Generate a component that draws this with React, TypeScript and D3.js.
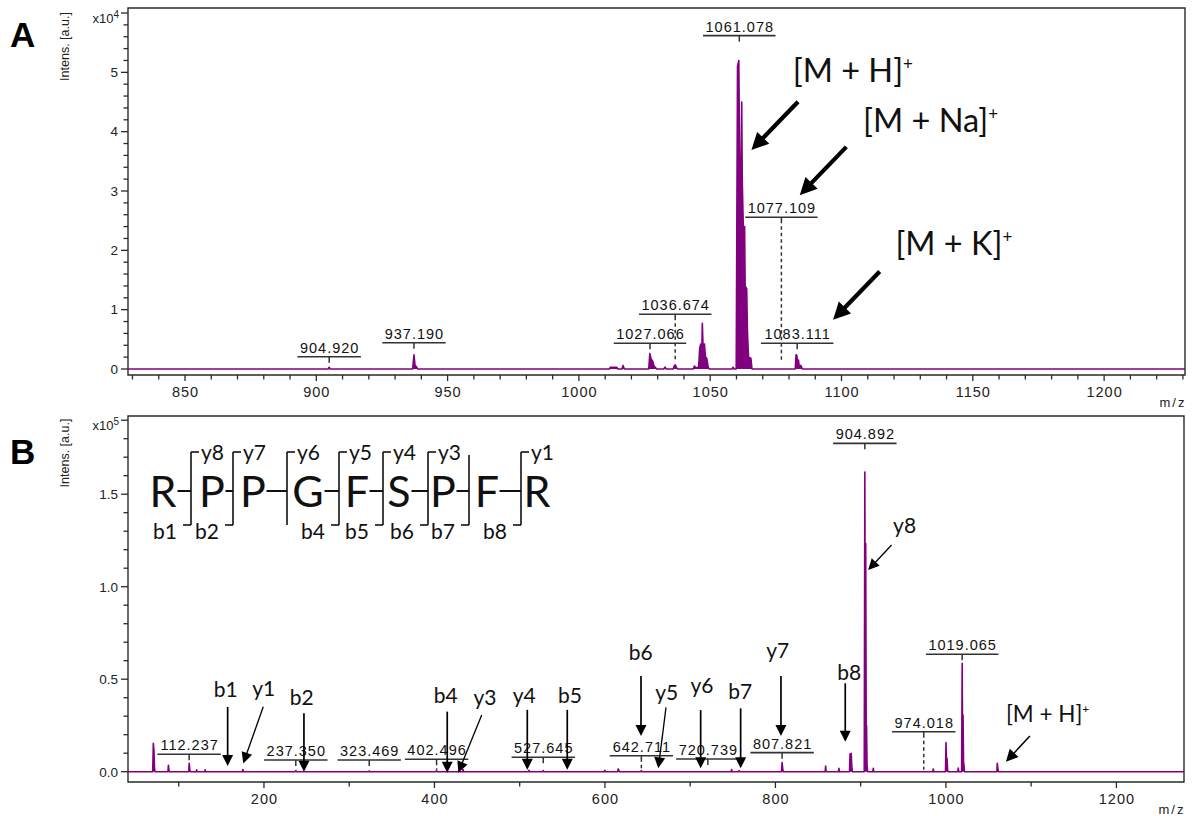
import React from 'react';
import * as d3 from 'd3';

// ---------- Panel A: intact peptide, intensity in units of 1e4 ----------
const profileA: [number, number][] = [
  [828.3, 0],
  [904.5, 0], [904.9, 0.03], [905.3, 0],
  [936.7, 0], [937.2, 0.24], [937.6, 0.06], [938.1, 0.04], [938.6, 0],
  [1011.6, 0], [1012.0, 0.03], [1014.4, 0.03], [1014.8, 0],
  [1016.4, 0], [1016.8, 0.06], [1017.3, 0],
  [1026.6, 0], [1027.0, 0.26], [1027.5, 0.17], [1028.1, 0.13], [1028.6, 0.05], [1029.2, 0.02], [1029.8, 0],
  [1032.3, 0], [1032.8, 0.03], [1033.3, 0],
  [1035.9, 0], [1036.3, 0.05], [1036.7, 0.07], [1037.2, 0.02], [1037.6, 0],
  [1043.6, 0], [1044.0, 0.05], [1044.5, 0.02], [1045.6, 0.03], [1046.0, 0.35], [1046.4, 0.42], [1046.8, 0.3],
  [1047.0, 0.77], [1047.3, 0.35], [1047.8, 0.42], [1048.2, 0.2], [1048.7, 0.18], [1049.2, 0.04], [1049.6, 0],
  [1058.3, 0], [1058.7, 0.03], [1059.1, 0],
  [1059.9, 0], [1060.4, 5.1], [1060.9, 5.2], [1061.2, 3.5], [1061.8, 3.5], [1062.0, 4.5], [1062.2, 3.2],
  [1062.6, 2.4], [1063.1, 2.4], [1063.3, 1.4], [1063.9, 1.35], [1064.2, 0.6], [1064.6, 0.2], [1065.5, 0.18], [1065.9, 0],
  [1082.4, 0], [1082.7, 0.24], [1083.0, 0.23], [1083.3, 0.09], [1083.6, 0.15], [1083.9, 0.05], [1084.5, 0.06], [1085.1, 0],
  [1230.8, 0],
];
const peakLabelsA = [904.92, 937.19, 1027.066, 1036.674, 1061.078, 1077.109, 1083.111];
const adductNamesA = ['M + H', 'M + Na', 'M + K'];
const adductMzA = [1065.7, 1084.1, 1096.8];
const adductIntA = [3.69, 2.93, 0.83];
const xTickLabelsA = [850, 900, 950, 1000, 1050, 1100, 1150, 1200];
const yTickLabelsA = [0, 1, 2, 3, 4, 5];

// ---------- Panel B: MS/MS fragment spectrum, intensity in units of 1e5 ----------
const profileB: [number, number][] = [
  [40.5, 0],
  [69.5, 0], [70.2, 0.153], [71.0, 0.11], [71.6, 0.02], [72.2, 0],
  [87.3, 0], [87.9, 0.035], [88.5, 0.01], [89.0, 0],
  [111.7, 0], [112.3, 0.045], [113.0, 0.01], [113.6, 0],
  [120.5, 0], [121.0, 0.01], [121.5, 0],
  [130.5, 0], [131.0, 0.01], [131.5, 0],
  [174.7, 0], [175.3, 0.012], [175.9, 0],
  [236.8, 0], [237.4, 0.006], [238.0, 0],
  [322.9, 0], [323.5, 0.004], [324.1, 0],
  [401.9, 0], [402.5, 0.006], [403.1, 0],
  [433.0, 0], [433.6, 0.012], [434.2, 0],
  [510.4, 0], [511.0, 0.008], [511.6, 0],
  [527.0, 0], [527.6, 0.006], [528.2, 0],
  [599.3, 0], [599.9, 0.008], [600.5, 0],
  [615.0, 0], [615.6, 0.015], [616.2, 0.01], [616.8, 0],
  [642.1, 0], [642.7, 0.006], [643.3, 0],
  [748.0, 0], [748.6, 0.012], [749.2, 0],
  [756.7, 0], [757.3, 0.006], [757.9, 0],
  [807.1, 0], [807.8, 0.049], [808.5, 0.02], [809.1, 0],
  [858.3, 0], [858.9, 0.031], [859.5, 0],
  [873.9, 0], [874.5, 0.018], [875.1, 0],
  [886.9, 0], [887.5, 0.095], [888.3, 0.06], [888.9, 0.1], [889.6, 0.03], [890.2, 0],
  [904.2, 0], [904.9, 1.62], [905.4, 0.5], [905.9, 1.235], [906.5, 0.2], [906.9, 0.25], [907.5, 0.03], [908.1, 0],
  [914.2, 0], [914.8, 0.018], [915.4, 0],
  [984.6, 0], [985.2, 0.015], [985.8, 0],
  [999.5, 0], [1000.1, 0.157], [1000.7, 0.05], [1001.3, 0.072], [1002.0, 0.01], [1002.6, 0],
  [1013.9, 0], [1014.5, 0.02], [1015.1, 0],
  [1018.4, 0], [1019.1, 0.586], [1019.6, 0.1], [1020.1, 0.306], [1020.7, 0.05], [1021.2, 0.036], [1021.8, 0],
  [1059.7, 0], [1060.3, 0.045], [1060.9, 0.02], [1061.5, 0],
  [1279.3, 0],
];
const peakLabelsB = [112.237, 237.35, 323.469, 402.496, 527.645, 642.711, 720.739, 807.821, 904.892, 974.018, 1019.065];
const fragmentIons = ['b1', 'y1', 'b2', 'b4', 'y3', 'y4', 'b5', 'b6', 'y5', 'y6', 'b7', 'y7', 'b8', 'y8'];
const fragmentMz = [157.4, 175.7, 246.9, 415.0, 428.0, 508.9, 555.8, 642.3, 662.6, 712.3, 759.2, 806.5, 881.9, 908.8];
const fragmentInt = [0.031, 0.045, 0, -0.005, -0.005, 0.01, 0.01, 0.193, 0.018, 0.018, 0.018, 0.193, 0.162, 1.09];
const precursorNameB = 'M + H';
const precursorMzB = 1070.4;
const precursorIntB = 0.054;
const sequence = ['R', 'P', 'P', 'G', 'F', 'S', 'P', 'F', 'R'];
const bIons = [1, 2, 4, 5, 6, 7, 8];
const yIons = [8, 7, 6, 5, 4, 3, 1];
const xTickLabelsB = [200, 400, 600, 800, 1000, 1200];
const yTickLabelsB = [0, 0.5, 1.0, 1.5];

// ---------- layout ----------
const W = 1195;
const H = 816;
const PURPLE = '#800080';
const AXIS = '#2a2a2a';
const NUM_FONT = '"Liberation Sans", Arial, sans-serif';
const ANNO_FONT = 'Lato, "Open Sans", sans-serif';

// label placement: underline level (intensity) and optional dashed drop
const labelLevelA = [0.207, 0.443, 0.433, 0.922, 5.618, 2.557, 0.433];
const labelDashA: (number | null)[] = [null, null, null, 0.12, null, 0.12, null];
const labelLevelB = [0.094, 0.063, 0.063, 0.067, 0.078, 0.086, 0.069, 0.103, 1.775, 0.216, 0.635];
const labelDashB: (number | null)[] = [null, null, null, 0.01, 0.03, 0.005, null, null, null, 0.01, null];

// fragment arrows: tail offset from tip, and text offset from tail (px)
const fragTail: [number, number][] = [
  [0, -59], [20, -56.6], [0, -58.4], [0, -61], [23.4, -57.7], [0, -60], [0, -60],
  [0, -60], [7.7, -61], [0, -58.3], [0, -60], [0, -60], [0, -58.4], [23.4, -25],
];
const fragText: [number, number][] = [
  [-2, -10], [0.4, -10.7], [-2.3, -8.3], [-1.5, -8.4], [3.3, -10], [-3, -7], [2.7, -7],
  [-0.2, -16], [0.7, -7.3], [1.3, -16.7], [-0.4, -9], [-3.2, -17.7], [4, -3.3], [13, -11.7],
];
const adductTail: [number, number] = [46.6, -48.3];
const adductText: [number, number][] = [[-5.3, -19.7], [16.7, -15.3], [15.7, -16.7]];

// sequence layout
const seqCx = [163, 212, 253, 308, 357, 399, 443, 487, 537];
const seqHalf: Record<string, number> = { R: 12.5, P: 11.5, G: 14.5, F: 10.5, S: 10.5 };
const siteX = [191, 233, 287, 339, 383, 428, 469, 521];

const xA = d3.scaleLinear().domain([828.3, 1230.8]).range([128, 1185]);
const yA = d3.scaleLinear().domain([0, 6]).range([369, 13]);
const xB = d3.scaleLinear().domain([40.5, 1279.3]).range([128, 1184]);
const yB = d3.scaleLinear().domain([0, 1.9]).range([771.7, 420.2]);

function labelWidth(s: string, fs: number, ls: number) {
  let w = 0;
  for (const c of s) w += c === '.' ? 0.278 : 0.556;
  return w * fs + ls * s.length;
}

function Arrow({ x1, y1, x2, y2, width, headLen, headHalf }: any) {
  const dx = x2 - x1;
  const dy = y2 - y1;
  const len = Math.hypot(dx, dy);
  const ux = dx / len;
  const uy = dy / len;
  const bx = x2 - ux * headLen;
  const by = y2 - uy * headLen;
  const nx = -uy;
  const ny = ux;
  const pts = [
    [x2, y2],
    [bx + nx * headHalf, by + ny * headHalf],
    [bx - nx * headHalf, by - ny * headHalf],
  ]
    .map((p) => p.join(','))
    .join(' ');
  return (
    <g>
      <line x1={x1} y1={y1} x2={bx + ux * 1} y2={by + uy * 1} stroke="#000" strokeWidth={width} />
      <polygon points={pts} fill="#000" />
    </g>
  );
}

function Spectrum({ profile, x, y }: any) {
  const area = d3
    .area<[number, number]>()
    .x((d) => x(d[0]))
    .y0(y(0))
    .y1((d) => y(d[1]));
  const line = d3
    .line<[number, number]>()
    .x((d) => x(d[0]))
    .y((d) => y(d[1]));
  return (
    <g>
      <path d={area(profile) || ''} fill={PURPLE} stroke="none" />
      <path d={line(profile) || ''} fill="none" stroke={PURPLE} strokeWidth={1.6} strokeLinejoin="round" />
    </g>
  );
}

function PeakLabels({ mzs, levels, dashes, x, y }: any) {
  const fs = 14.5;
  const ls = 1;
  return (
    <g>
      {mzs.map((mz: number, i: number) => {
        const text = mz.toFixed(3);
        const cx = x(mz);
        const ly = y(levels[i]);
        const half = labelWidth(text, fs, ls) / 2 + 2;
        return (
          <g key={i}>
            <text
              x={cx + ls / 2}
              y={ly - 4}
              textAnchor="middle"
              fontFamily={NUM_FONT}
              fontSize={fs}
              letterSpacing={ls}
              fill="#111"
            >
              {text}
            </text>
            <line x1={cx - half} x2={cx + half} y1={ly} y2={ly} stroke="#333" strokeWidth={1.6} />
            <line x1={cx} x2={cx} y1={ly} y2={ly + 6} stroke="#333" strokeWidth={1.5} />
            {dashes[i] !== null && (
              <line
                x1={cx}
                x2={cx}
                y1={ly + 9}
                y2={y(dashes[i])}
                stroke="#333"
                strokeWidth={1.5}
                strokeDasharray="3.5,3"
              />
            )}
          </g>
        );
      })}
    </g>
  );
}

function Axes({ x, y, top, axisY, right, xMinor, xMajor, yMinor, yMajor, yTop, yFmt, exponent }: any) {
  const left = x.range()[0];
  return (
    <g>
      <path
        d={`M${left},${top}H${right}V${axisY}H${left}Z`}
        fill="none"
        stroke={AXIS}
        strokeWidth={1.4}
      />
      {xMinor.map((v: number) => {
        const major = xMajor.includes(v);
        return (
          <line
            key={'x' + v}
            x1={x(v)}
            x2={x(v)}
            y1={axisY}
            y2={axisY + (major ? 6 : 4.5)}
            stroke={AXIS}
            strokeWidth={1.3}
          />
        );
      })}
      {xMajor.map((v: number) => (
        <text
          key={'xl' + v}
          x={x(v) + 0.5}
          y={axisY + 22}
          textAnchor="middle"
          fontFamily={NUM_FONT}
          fontSize={14.5}
          letterSpacing={1}
          fill="#222"
        >
          {v}
        </text>
      ))}
      {yMinor.map((v: number) => {
        const major = yMajor.some((m: number) => Math.abs(m - v) < 1e-6) || Math.abs(v - yTop) < 1e-6;
        return (
          <line
            key={'y' + v}
            x1={left}
            x2={left - (major ? 7 : 4.5)}
            y1={y(v)}
            y2={y(v)}
            stroke={AXIS}
            strokeWidth={1.3}
          />
        );
      })}
      {yMajor.map((v: number) => (
        <text
          key={'yl' + v}
          x={left - 10}
          y={y(v) + 4.8}
          textAnchor="end"
          fontFamily={NUM_FONT}
          fontSize={13.5}
          fill="#222"
        >
          {yFmt(v)}
        </text>
      ))}
      <text x={left - 9} y={y(yTop) + 10} textAnchor="end" fontFamily={NUM_FONT} fontSize={13} fill="#222">
        x10
        <tspan fontSize={10} dy={-5}>
          {exponent}
        </tspan>
      </text>
      <text
        x={right - 12}
        y={axisY + 32}
        textAnchor="middle"
        fontFamily={NUM_FONT}
        fontSize={13}
        letterSpacing={2}
        fill="#222"
      >
        m/z
      </text>
    </g>
  );
}

function AxisTitle({ cx, cy }: any) {
  return (
    <text
      transform={`translate(${cx},${cy}) rotate(-90)`}
      textAnchor="middle"
      fontFamily={NUM_FONT}
      fontSize={12.5}
      fill="#222"
    >
      Intens. [a.u.]
    </text>
  );
}

function Sequence() {
  const baseY = 507;
  const dashY = 491;
  const topY = 452;
  const botY = 525;
  return (
    <g fontFamily={ANNO_FONT} fill="#111">
      {sequence.map((r, i) => (
        <text key={'r' + i} x={seqCx[i]} y={baseY} textAnchor="middle" fontSize={43}>
          {r}
        </text>
      ))}
      {siteX.map((sx, k) => {
        const site = k + 1;
        const hasB = bIons.includes(site);
        const yNum = sequence.length - site;
        const hasY = yIons.includes(yNum);
        const rEdge = seqCx[k] + seqHalf[sequence[k]] + 2;
        return (
          <g key={'s' + k} stroke="#111" strokeWidth={1.6}>
            <line x1={rEdge} x2={sx} y1={dashY} y2={dashY} strokeWidth={2} />
            <line x1={sx} x2={sx} y1={hasY ? topY : topY + 3} y2={botY} />
            {hasY && <line x1={sx} x2={sx + 8} y1={topY} y2={topY} />}
            {hasB && <line x1={sx - 8} x2={sx} y1={botY} y2={botY} />}
            {hasY && (
              <text x={sx + 10} y={460} fontSize={21} stroke="none">
                {'y' + yNum}
              </text>
            )}
            {hasB && (
              <text x={sx - 14} y={539} fontSize={21} textAnchor="end" stroke="none">
                {'b' + site}
              </text>
            )}
          </g>
        );
      })}
    </g>
  );
}

export default function App() {
  const xMinorA = d3.range(830, 1231, 10);
  const yMinorA = d3.range(0, 31).map((i) => Math.round(i * 2) / 10);
  const xMinorB = d3.range(100, 1201, 100);
  const yMinorB = d3.range(0, 20).map((i) => i / 10);

  return (
    <svg
      width={W}
      height={H}
      viewBox={`0 0 ${W} ${H}`}
      style={{ position: 'absolute', left: 0, top: 0, background: '#fff' }}
    >
      <rect width={W} height={H} fill="#fff" />

      {/* ---- Panel A ---- */}
      <text x={10} y={47} fontFamily={NUM_FONT} fontWeight="bold" fontSize={35} fill="#000">
        A
      </text>
      <AxisTitle cx={69} cy={46.5} />
      <Axes
        x={xA}
        y={yA}
        top={8}
        axisY={375}
        right={1185}
        xMinor={xMinorA}
        xMajor={xTickLabelsA}
        yMinor={yMinorA}
        yMajor={yTickLabelsA}
        yTop={6}
        yFmt={(v: number) => String(v)}
        exponent="4"
      />
      <Spectrum profile={profileA} x={xA} y={yA} />
      <PeakLabels mzs={peakLabelsA} levels={labelLevelA} dashes={labelDashA} x={xA} y={yA} />
      {adductNamesA.map((name, i) => {
        const tx = xA(adductMzA[i]);
        const ty = yA(adductIntA[i]);
        const sx = tx + adductTail[0];
        const sy = ty + adductTail[1];
        return (
          <g key={'ad' + i}>
            <Arrow x1={sx} y1={sy} x2={tx} y2={ty} width={4.2} headLen={17} headHalf={8.5} />
            <text
              x={sx + adductText[i][0]}
              y={sy + adductText[i][1]}
              fontFamily={ANNO_FONT}
              fontSize={32.5}
              fill="#111"
            >
              {'[' + name + ']'}
              <tspan fontSize={17} dy={-12}>
                +
              </tspan>
            </text>
          </g>
        );
      })}

      {/* ---- Panel B ---- */}
      <text x={10} y={464} fontFamily={NUM_FONT} fontWeight="bold" fontSize={35} fill="#000">
        B
      </text>
      <AxisTitle cx={69} cy={453} />
      <Axes
        x={xB}
        y={yB}
        top={416}
        axisY={782}
        right={1184}
        xMinor={xMinorB}
        xMajor={xTickLabelsB}
        yMinor={yMinorB}
        yMajor={yTickLabelsB}
        yTop={1.9}
        yFmt={d3.format('.1f')}
        exponent="5"
      />
      <Spectrum profile={profileB} x={xB} y={yB} />
      <PeakLabels mzs={peakLabelsB} levels={labelLevelB} dashes={labelDashB} x={xB} y={yB} />
      <Sequence />
      {fragmentIons.map((name, i) => {
        const tx = xB(fragmentMz[i]);
        const ty = yB(fragmentInt[i]);
        const sx = tx + fragTail[i][0];
        const sy = ty + fragTail[i][1];
        const diagonal = fragTail[i][0] !== 0;
        return (
          <g key={'fr' + i}>
            <Arrow
              x1={sx}
              y1={sy}
              x2={tx}
              y2={ty}
              width={diagonal ? 1.3 : 1.7}
              headLen={11}
              headHalf={5.5}
            />
            <text
              x={sx + fragText[i][0]}
              y={sy + fragText[i][1]}
              textAnchor="middle"
              fontFamily={ANNO_FONT}
              fontSize={21}
              fill="#111"
            >
              {name}
            </text>
          </g>
        );
      })}
      {(() => {
        const tx = xB(precursorMzB);
        const ty = yB(precursorIntB);
        const sx = tx + 24;
        const sy = ty - 25.7;
        return (
          <g>
            <Arrow x1={sx} y1={sy} x2={tx} y2={ty} width={1.5} headLen={12} headHalf={6} />
            <text x={sx - 24} y={sy - 14.3} fontFamily={ANNO_FONT} fontSize={22.5} fill="#111">
              {'[' + precursorNameB + ']'}
              <tspan fontSize={12} dy={-9}>
                +
              </tspan>
            </text>
          </g>
        );
      })()}
    </svg>
  );
}
